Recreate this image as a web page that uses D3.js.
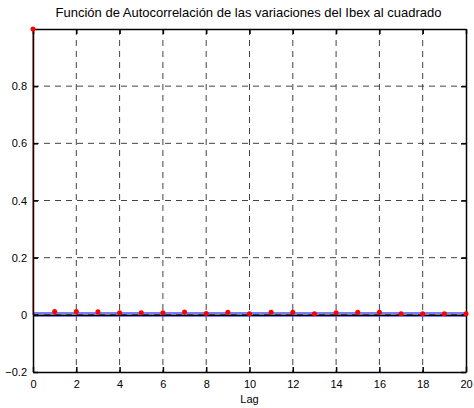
<!DOCTYPE html>
<html>
<head>
<script src="https://cdn.jsdelivr.net/npm/d3@7"></script>
<style>
  body { margin: 0; background: #fff; font-family: "Liberation Sans", Arial, sans-serif; }
  text { fill: #000; }
</style>
</head>
<body>
<div id="chart"></div>
<script>
const lags = d3.range(0, 21);
const acf = [1, 0.0115, 0.0115, 0.011, 0.007, 0.007, 0.007, 0.01, 0.005, 0.009, 0.004,
             0.009, 0.009, 0.004, 0.007, 0.009, 0.009, 0.004, 0.004, 0.004, 0.004];
const bounds = [0.006, -0.004];
const xTicks = d3.range(0, 21, 2);
const yTicks = [-0.2, 0, 0.2, 0.4, 0.6, 0.8];
const title = "Función de Autocorrelación de las variaciones del Ibex al cuadrado";

const width = 474, height = 408;
const mLeft = 33, mRight = 466, mTop = 29, mBottom = 372;

const x = d3.scaleLinear().domain([0, 20]).range([mLeft, mRight]);
const y = d3.scaleLinear().domain([-0.2, 1]).range([mBottom, mTop]);

const svg = d3.select("#chart").append("svg")
  .attr("width", width).attr("height", height);

// grid
svg.append("g").selectAll("line").data(xTicks.filter(d => d > 0 && d < 20)).join("line")
  .attr("x1", d => x(d)).attr("x2", d => x(d))
  .attr("y1", mTop).attr("y2", mBottom)
  .attr("stroke", "#444").attr("stroke-dasharray", "6,5").attr("stroke-width", 1);
svg.append("g").selectAll("line").data(yTicks.filter(d => d > -0.2)).join("line")
  .attr("x1", mLeft).attr("x2", mRight)
  .attr("y1", d => y(d)).attr("y2", d => y(d))
  .attr("stroke", "#444").attr("stroke-dasharray", "6,5").attr("stroke-width", 1);

// confidence bounds
svg.append("g").selectAll("line").data(bounds).join("line")
  .attr("x1", mLeft).attr("x2", mRight)
  .attr("y1", d => y(d)).attr("y2", d => y(d))
  .attr("stroke", "#5050ff").attr("stroke-width", 1.5);

// zero line
svg.append("line")
  .attr("x1", mLeft).attr("x2", mRight)
  .attr("y1", y(0) + 0.5).attr("y2", y(0) + 0.5)
  .attr("stroke", "#000").attr("stroke-width", 1.5);

// stems
svg.append("g").selectAll("line").data(lags).join("line")
  .attr("x1", d => x(d)).attr("x2", d => x(d))
  .attr("y1", y(0)).attr("y2", (d, i) => y(acf[i]))
  .attr("stroke", "#ff0000").attr("stroke-width", 1);

// axes box
const xAxis = d3.axisBottom(x).tickValues(xTicks).tickSizeInner(-5).tickSizeOuter(0).tickPadding(8);
const yAxis = d3.axisLeft(y).tickValues(yTicks).tickSizeInner(-5).tickSizeOuter(0).tickPadding(6)
  .tickFormat(d => d === 0 ? "0" : d3.format("")(+d.toFixed(1)));

const gx = svg.append("g").attr("transform", `translate(0,${mBottom})`).call(xAxis);
const gy = svg.append("g").attr("transform", `translate(${mLeft},0)`).call(yAxis);
const gxt = svg.append("g").attr("transform", `translate(0,${mTop})`)
  .call(d3.axisTop(x).tickValues(xTicks).tickSizeInner(-5).tickSizeOuter(0).tickFormat(""));
const gyr = svg.append("g").attr("transform", `translate(${mRight},0)`)
  .call(d3.axisRight(y).tickValues(yTicks).tickSizeInner(-5).tickSizeOuter(0).tickFormat(""));

[gx, gy, gxt, gyr].forEach(g => {
  g.selectAll(".domain").attr("stroke", "#000").attr("stroke-width", 1.5);
  g.selectAll(".tick line").attr("stroke", "#000").attr("stroke-width", 1.5);
  g.selectAll("text").attr("font-size", 11).attr("font-family", "Liberation Sans, Arial, sans-serif").attr("fill", "#000");
});

// markers
svg.append("g").selectAll("circle").data(lags).join("circle")
  .attr("cx", d => x(d)).attr("cy", (d, i) => y(acf[i]))
  .attr("r", 2.5).attr("fill", "#ff0000");

svg.append("text")
  .attr("x", (mLeft + mRight) / 2 - 1).attr("y", 17)
  .attr("text-anchor", "middle").attr("font-size", 13)
  .text(title);

svg.append("text")
  .attr("x", (mLeft + mRight) / 2).attr("y", 403)
  .attr("text-anchor", "middle").attr("font-size", 11)
  .text("Lag");
</script>
</body>
</html>
